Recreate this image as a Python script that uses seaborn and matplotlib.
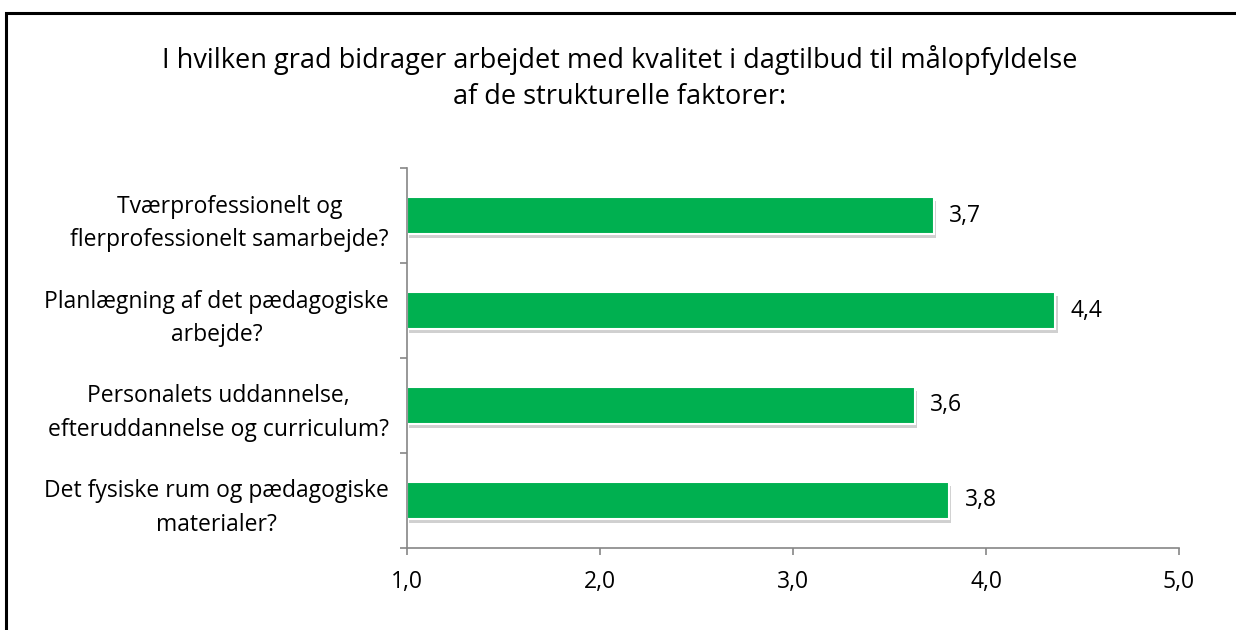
import matplotlib
matplotlib.use("Agg")
import matplotlib.pyplot as plt
import matplotlib.patheffects as pe
from matplotlib.patches import Rectangle
import seaborn as sns
import pandas as pd

# Data
categories = [
    "Tværprofessionelt og\nflerprofessionelt samarbejde?",
    "Planlægning af det pædagogiske\narbejde?",
    "Personalets uddannelse,\nefteruddannelse og curriculum?",
    "Det fysiske rum og pædagogiske\nmaterialer?",
]
values = [3.73, 4.36, 3.63, 3.81]
value_labels = ["3,7", "4,4", "3,6", "3,8"]
xticks = [1, 2, 3, 4, 5]
xtick_labels = ["1,0", "2,0", "3,0", "4,0", "5,0"]
title = ("I hvilken grad bidrager arbejdet med kvalitet i dagtilbud til målopfyldelse\n"
         "af de strukturelle faktorer:")

df = pd.DataFrame({"kategori": categories, "score": values})

sns.set_style("white")
plt.rcParams["font.family"] = ["Open Sans", "DejaVu Sans"]
plt.rcParams["text.color"] = "black"
plt.rcParams["xtick.color"] = "black"
plt.rcParams["ytick.color"] = "black"

fig = plt.figure(figsize=(12.36, 6.3), dpi=100)
ax = fig.add_axes([0.3293, 0.1302, 0.6246, 0.6031])

sns.barplot(data=df, x="score", y="kategori", orient="h", color="#00B050",
            saturation=1, width=0.39, ax=ax, edgecolor="white", linewidth=1.5)

for bar in ax.patches:
    # bars start at 0; shift them to start at the axis origin (1,0)
    bar.set_x(1)
    bar.set_width(bar.get_width() - 1)
    bar.set_path_effects([pe.SimplePatchShadow(offset=(1.5, -3), shadow_rgbFace="#666666", alpha=0.3),
                          pe.Normal()])

for i, (v, lab) in enumerate(zip(values, value_labels)):
    ax.text(v + 0.08, i, lab, va="center", ha="left", fontsize=16.5, color="black")

ax.set_xlim(1, 5)
ax.set_ylim(3.5, -0.5)
ax.set_xticks(xticks)
ax.set_xticklabels(xtick_labels, fontsize=16.5)
ax.set_yticks([-0.5, 0.5, 1.5, 2.5, 3.5], minor=False)
ax.set_yticklabels([])
ax.set_yticks([0, 1, 2, 3], minor=True)
ax.set_yticklabels(categories, minor=True, fontsize=16.5)
for lab in ax.get_yticklabels(minor=True):
    lab.set_multialignment("center")
    lab.set_linespacing(1.55)
ax.tick_params(axis="y", which="minor", length=0, pad=13, colors="black")
ax.tick_params(axis="y", which="major", length=5, width=1.2, color="#868686", direction="out", left=True)
ax.tick_params(axis="x", length=5, width=1.2, color="#868686", labelcolor="black",
                direction="out", bottom=True, pad=11)
ax.set_xlabel("")
ax.set_ylabel("")

for side in ["top", "right"]:
    ax.spines[side].set_visible(False)
for side in ["left", "bottom"]:
    ax.spines[side].set_color("#868686")
    ax.spines[side].set_linewidth(1.2)

fig.text(0.5015, 0.928, title, ha="center", va="top", fontsize=19.5, linespacing=1.35)

# outer frame of the chart
fig.patches.append(Rectangle((6 / 1236, -0.05), 1.1, 1 - 13 / 630 + 0.05,
                             transform=fig.transFigure, fill=False,
                             edgecolor="black", linewidth=2.2))

fig.savefig("out.png", dpi=100)
